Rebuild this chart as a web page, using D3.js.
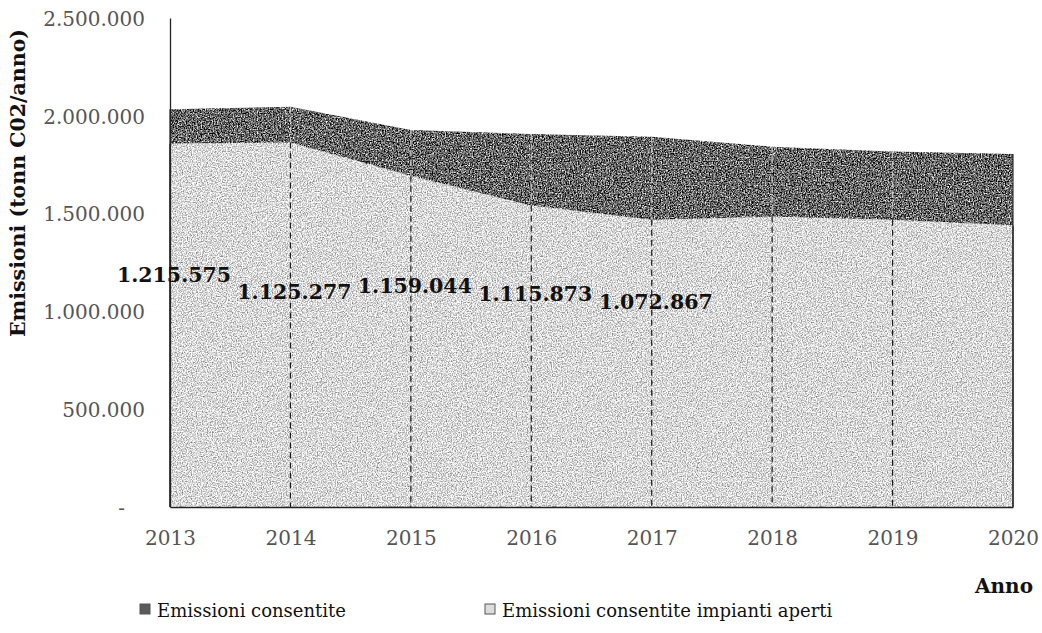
<!DOCTYPE html>
<html>
<head>
<meta charset="utf-8">
<script src="https://cdn.jsdelivr.net/npm/d3@7"></script>
<style>
  html, body { margin: 0; padding: 0; background: #fff; }
  svg { display: block; }
</style>
</head>
<body>
<svg id="chart" width="1042" height="633"></svg>
<script>
// ---- data ----
const years = ["2013", "2014", "2015", "2016", "2017", "2018", "2019", "2020"];
const emissioniConsentite = [2034000, 2046000, 1927000, 1907000, 1893000, 1842000, 1818000, 1805000];
const emissioniImpiantiAperti = [1859000, 1864000, 1694000, 1541000, 1468000, 1485000, 1468000, 1440000];
const labelYears = ["2013", "2014", "2015", "2016", "2017"];
const labelValues = [1215575, 1125277, 1159044, 1115873, 1072867];
const yTickValues = [0, 500000, 1000000, 1500000, 2000000, 2500000];
const seriesNames = ["Emissioni consentite", "Emissioni consentite impianti aperti"];
const yTitle = "Emissioni (tonn C02/anno)";
const xTitle = "Anno";

// ---- setup ----
const svg = d3.select("#chart");
const itLocale = d3.formatLocale({ decimal: ",", thousands: ".", grouping: [3], currency: ["", "€"] });
const fmt = itLocale.format(",.0f");

const x = d3.scalePoint().domain(years).range([170, 1013]);
const y = d3.scaleLinear().domain([0, 2500000]).range([507, 18]);

// grain filters to imitate the scanned print texture
const defs = svg.append("defs");
function grain(id, base, contrast, freq, seed) {
  const c = base - contrast * 0.5;
  const f = defs.append("filter").attr("id", id)
    .attr("filterUnits", "userSpaceOnUse")
    .attr("x", 0).attr("y", 0).attr("width", 1042).attr("height", 633)
    .attr("color-interpolation-filters", "sRGB");
  f.append("feTurbulence").attr("type", "fractalNoise").attr("baseFrequency", freq)
    .attr("numOctaves", 2).attr("seed", seed).attr("result", "n");
  f.append("feColorMatrix").attr("in", "n").attr("type", "matrix")
    .attr("values", `${contrast} 0 0 0 ${c}  ${contrast} 0 0 0 ${c}  ${contrast} 0 0 0 ${c}  0 0 0 0 1`)
    .attr("result", "g");
  f.append("feComposite").attr("in", "g").attr("in2", "SourceGraphic").attr("operator", "in");
}
grain("grainDark", 0.40, 2.0, 0.75, 4);
grain("grainLight", 0.85, 1.1, 0.8, 9);

const totalRows = years.map((yr, i) => ({ yr, v: emissioniConsentite[i] }));
const openRows = years.map((yr, i) => ({ yr, v: emissioniImpiantiAperti[i] }));

const area = d3.area().x(d => x(d.yr)).y0(y(0)).y1(d => y(d.v));

// dark area (total allowed emissions)
svg.append("path").datum(totalRows)
  .attr("d", area)
  .attr("fill", "#666")
  .attr("filter", "url(#grainDark)");

// light area (open plants)
svg.append("path").datum(openRows)
  .attr("d", area)
  .attr("fill", "#d8d8d8")
  .attr("filter", "url(#grainLight)");

// drop lines
const drops = svg.append("g");
years.forEach((yr, i) => {
  const edge = (i === 0 || i === years.length - 1);
  drops.append("line")
    .attr("x1", x(yr)).attr("x2", x(yr))
    .attr("y1", y(emissioniConsentite[i])).attr("y2", y(emissioniImpiantiAperti[i]))
    .attr("stroke", edge ? "#333" : "#c4c4c4").attr("stroke-width", 1.2)
    .attr("stroke-dasharray", edge ? null : "6,4");
  drops.append("line")
    .attr("x1", x(yr)).attr("x2", x(yr))
    .attr("y1", y(emissioniImpiantiAperti[i])).attr("y2", y(0))
    .attr("stroke", "#1a1a1a").attr("stroke-width", edge ? 1.6 : 1.2)
    .attr("stroke-dasharray", edge ? null : "6,4");
});

// y axis
const yAxis = d3.axisLeft(y).tickValues(yTickValues).tickSize(0).tickPadding(25)
  .tickFormat(d => d === 0 ? "-" : fmt(d));
const gy = svg.append("g").attr("transform", `translate(${x(years[0])},0)`).call(yAxis);
gy.select(".domain").attr("stroke", "#222").attr("stroke-width", 1.3);
gy.selectAll("text")
  .attr("font-family", "DejaVu Serif").attr("font-size", 20).attr("fill", "#555")
  .attr("dy", "0.36em")
  .attr("dx", d => d === 0 ? -20 : 0);

// x axis
const xAxis = d3.axisBottom(x).tickSize(0).tickPadding(38);
const gx = svg.append("g").attr("transform", `translate(0,${y(0)})`).call(xAxis);
gx.select(".domain").attr("stroke", "#222").attr("stroke-width", 1.6);
gx.selectAll("text")
  .attr("font-family", "DejaVu Serif").attr("font-size", 20).attr("fill", "#555")
  .attr("dy", "0");

// data labels
svg.append("g").selectAll("text")
  .data(labelYears.map((yr, i) => ({ yr, v: labelValues[i] })))
  .join("text")
  .attr("x", d => x(d.yr) + 4)
  .attr("y", d => y(d.v))
  .attr("dy", "0.6em")
  .attr("text-anchor", "middle")
  .attr("font-family", "DejaVu Serif").attr("font-weight", "bold").attr("font-size", 20.5)
  .attr("fill", "#111")
  .text(d => fmt(d.v));

// y title
svg.append("text")
  .attr("transform", `translate(25,183) rotate(-90)`)
  .attr("text-anchor", "middle")
  .attr("font-family", "DejaVu Serif").attr("font-weight", "bold").attr("font-size", 20.5)
  .attr("fill", "#111")
  .text(yTitle);

// x title
svg.append("text")
  .attr("x", 1033).attr("y", 593)
  .attr("text-anchor", "end")
  .attr("font-family", "DejaVu Serif").attr("font-weight", "bold").attr("font-size", 20)
  .attr("fill", "#111")
  .text(xTitle);

// legend
const legendColors = ["#5a5a5a", "#dcdcdc"];
const legendX = [140, 485];
const lg = svg.append("g");
seriesNames.forEach((name, i) => {
  lg.append("rect")
    .attr("x", legendX[i]).attr("y", 604).attr("width", 10).attr("height", 10)
    .attr("fill", legendColors[i]).attr("stroke", "#555").attr("stroke-width", 1);
  lg.append("text")
    .attr("x", legendX[i] + 17).attr("y", 617)
    .attr("font-family", "DejaVu Serif").attr("font-size", 18).attr("fill", "#111")
    .text(name);
});
</script>
</body>
</html>
